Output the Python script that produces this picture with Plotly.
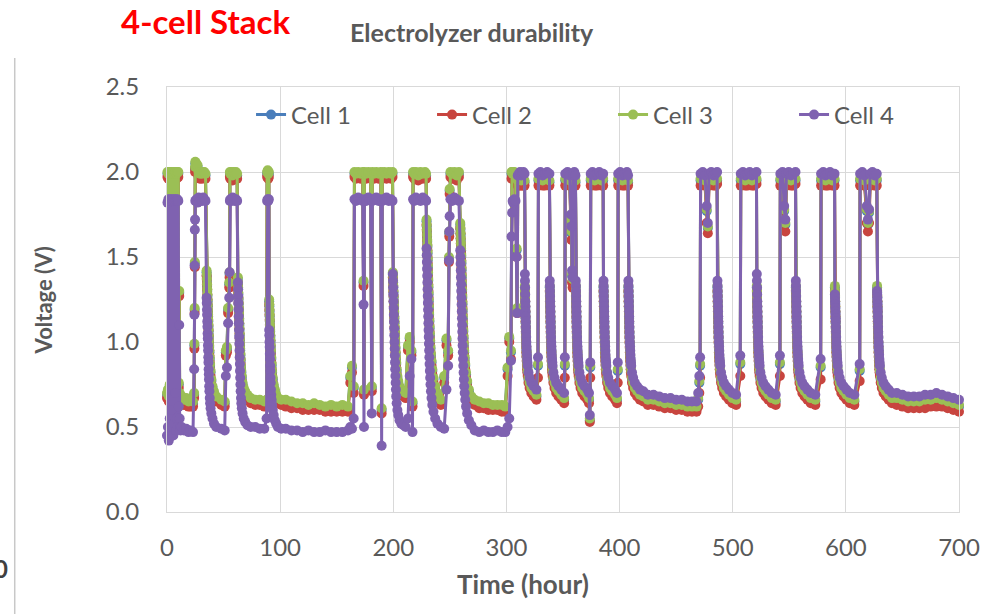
import plotly.graph_objects as go

# Elapsed test time (hours), shared by all four cells
hours = [
    0, 0.4, 0.8, 1.2, 1.6, 2, 2.4, 2.8, 3.2, 3.6, 4, 4.4, 4.8, 5.2, 5.6, 6, 6.4, 6.8, 7.2, 7.6, 8, 8.4, 8.8, 9.2, 9.6, 10, 10.4, 10.8, 11.2, 11.6, 12,
    13, 15, 17, 19, 21, 23,
    24, 24.2, 24.4, 24.6, 24.8, 25, 26, 27, 28, 29, 30, 31, 32, 33, 34,
    35, 35.15, 35.3, 35.45, 35.6, 35.75, 35.9, 36.05, 36.2, 36.35, 36.5, 36.65, 36.8, 36.95, 37.1, 37.3, 37.5, 37.8, 38.1, 38.5, 39.2, 40.2, 41.5, 43.5, 48, 51,
    52, 53, 54, 55, 55.3, 55.6, 56, 57, 58, 59, 60, 61, 62,
    62.6, 62.75, 62.9, 63.05, 63.2, 63.35, 63.5, 63.65, 63.8, 63.95, 64.1, 64.25, 64.4, 64.55, 64.7, 64.9, 65.1, 65.4, 65.7, 66.1, 66.8, 67.8, 69.1, 71.1, 74, 78, 82, 86,
    88, 88.5, 89, 89.5, 90, 90.3, 90.45, 90.6, 90.75, 90.9, 91.05, 91.2, 91.35, 91.5, 91.7, 91.9, 92.2, 92.5, 92.9, 93.5, 94.3, 95.3, 96.5, 98, 101,
    105, 110, 115, 120, 125, 130, 135, 140, 145, 150, 155, 160,
    162, 163.5, 165,
    165.7, 167, 169, 171, 173, 173.7, 174.1, 174.5, 176, 178, 180, 181, 181.5, 183, 185, 187, 189, 189.7, 190.3, 192, 194, 196, 198, 199.3,
    199.6, 199.75, 199.9, 200.05, 200.2, 200.35, 200.5, 200.65, 200.8, 200.95, 201.1, 201.25, 201.4, 201.55, 201.7, 201.9, 202.1, 202.35, 202.6, 203, 203.6, 204.4, 205.5, 207, 209, 211,
    213, 214.5, 216, 217, 217.5, 218.5, 220, 222, 224, 226, 228, 229,
    229.4, 229.55, 229.7, 229.85, 230, 230.15, 230.3, 230.45, 230.6, 230.75, 230.9, 231.05, 231.2, 231.35, 231.5, 231.7, 231.9, 232.1, 232.35, 232.6, 232.9, 233.3, 233.8, 234.5, 235.5, 237, 239, 242,
    245, 247, 248.5, 249.2, 249.5, 249.8, 250.5, 252, 254, 256, 258,
    259.2, 259.35, 259.5, 259.65, 259.8, 259.95, 260.1, 260.25, 260.4, 260.55, 260.7, 260.85, 261, 261.15, 261.3, 261.5, 261.7, 261.9, 262.15, 262.4, 262.7, 263.1, 263.6, 264.3, 265.3, 266.8, 269, 272,
    276, 280, 284, 288, 292, 296, 299,
    301, 302.5, 304, 304.5, 305, 305.5, 306, 307, 308, 309, 309.5, 310, 311, 312, 313, 314, 315, 316,
    316.3, 316.4, 316.5, 316.6, 316.7, 316.8, 316.9, 317, 317.1, 317.2, 317.3, 317.45, 317.6, 317.75, 317.9, 318.1, 318.3, 318.55, 318.8, 319.5, 320.5, 322, 324, 326.5,
    327.9, 328.3, 330, 332, 334, 336, 338,
    338.3, 338.4, 338.5, 338.6, 338.7, 338.8, 338.9, 339, 339.1, 339.2, 339.3, 339.45, 339.6, 339.75, 339.9, 340.1, 340.3, 340.55, 340.8, 341.5, 342.5, 344, 346, 348.5, 351,
    351.6, 352, 354, 356, 357, 357.5, 358, 358.5, 359, 360, 361,
    361.3, 361.4, 361.5, 361.6, 361.7, 361.8, 361.9, 362, 362.1, 362.2, 362.3, 362.45, 362.6, 362.75, 362.9, 363.1, 363.3, 363.55, 363.8, 364.5, 365.5, 367, 369, 371.5, 373,
    373.7, 374.1, 374.5, 376, 378, 380, 382, 384, 385.5,
    385.8, 385.9, 386, 386.1, 386.2, 386.3, 386.4, 386.5, 386.6, 386.7, 386.8, 386.95, 387.1, 387.25, 387.4, 387.6, 387.8, 388.05, 388.3, 389, 390, 391.5, 393.5, 396, 397.7,
    398.4, 398.8, 400.5, 402.5, 404.5, 406.5, 407.5,
    407.8, 407.9, 408, 408.1, 408.2, 408.3, 408.4, 408.5, 408.6, 408.7, 408.8, 408.95, 409.1, 409.25, 409.4, 409.6, 409.8, 410.05, 410.3, 411, 412, 413.5, 415.5, 418,
    421, 425, 430, 435, 440, 445, 450, 455, 460, 464, 468,
    469.5, 470.5, 471.2, 471.6, 473.5, 475.5, 477, 478, 479, 481, 483, 485, 486.2,
    486.5, 486.6, 486.7, 486.8, 486.9, 487, 487.1, 487.2, 487.3, 487.4, 487.5, 487.65, 487.8, 487.95, 488.1, 488.3, 488.5, 488.75, 489, 489.7, 490.7, 492.2, 494.2, 496.7, 499.7, 503,
    506.7, 507.1, 509, 511, 513, 515, 517, 519, 521,
    521.3, 521.4, 521.5, 521.6, 521.7, 521.8, 521.9, 522, 522.1, 522.2, 522.3, 522.45, 522.6, 522.75, 522.9, 523.1, 523.3, 523.55, 523.8, 524.5, 525.5, 527, 529, 531.5, 534.5, 538,
    541.7, 542.1, 544, 545.5, 546.5, 547.5, 549.5, 551.5, 553.5, 555.5,
    555.8, 555.9, 556, 556.1, 556.2, 556.3, 556.4, 556.5, 556.6, 556.7, 556.8, 556.95, 557.1, 557.25, 557.4, 557.6, 557.8, 558.05, 558.3, 559, 560, 561.5, 563.5, 566, 569, 573,
    577.7, 578.1, 580, 582, 584, 586, 588, 590,
    590.3, 590.4, 590.5, 590.6, 590.7, 590.8, 590.9, 591, 591.1, 591.2, 591.3, 591.45, 591.6, 591.75, 591.9, 592.1, 592.3, 592.55, 592.8, 593.5, 594.5, 596, 598, 600.5, 603.5, 607.5,
    612.2, 612.6, 614.5, 616.5, 618.5, 619.5, 620.5, 621.5, 623.5, 625.5, 627.3,
    627.6, 627.7, 627.8, 627.9, 628, 628.1, 628.2, 628.3, 628.4, 628.5, 628.6, 628.75, 628.9, 629.05, 629.2, 629.4, 629.6, 629.85, 630.1, 630.8, 631.8, 633.3, 635.3, 637.8, 640.8,
    645, 650, 655, 660, 665, 670, 675, 680, 685, 690, 695, 700,
]

# Cell voltages (V)
cell1 = [
    0.69, 1.99, 0.71, 1.98, 0.67, 1.99, 0.74, 1.99, 0.69, 1.98, 0.77, 1.99, 0.71, 1.99, 0.67, 1.98, 0.71, 1.99, 0.84, 1.99, 0.69, 1.98, 0.73, 1.99, 0.69, 1.99, 0.75, 1.29, 0.69, 0.66, 0.65,
    0.67, 0.65, 0.66, 0.64, 0.65, 0.64,
    0.69, 0.98, 1.19, 1.46, 2.02, 2.05, 2.04, 2.03, 1.99, 1.98, 1.99, 1.98, 1.99, 1.99, 1.98,
    1.41, 1.39, 1.36, 1.33, 1.30, 1.27, 1.24, 1.21, 1.18, 1.15, 1.12, 1.09, 1.06, 1.03, 1.00, 0.97, 0.94, 0.90, 0.86, 0.82, 0.77, 0.73, 0.70, 0.67, 0.65, 0.64,
    0.94, 0.96, 1.19, 1.34, 1.40, 1.99, 1.98, 1.99, 1.97, 1.99, 1.98, 1.99, 1.98,
    1.37, 1.34, 1.31, 1.28, 1.25, 1.22, 1.19, 1.16, 1.13, 1.10, 1.07, 1.04, 1.01, 0.98, 0.95, 0.92, 0.89, 0.85, 0.82, 0.79, 0.75, 0.72, 0.70, 0.68, 0.66, 0.65, 0.65, 0.64,
    0.65, 1.99, 2.00, 1.98, 1.99, 1.24, 1.21, 1.18, 1.15, 1.12, 1.09, 1.06, 1.03, 1.00, 0.97, 0.94, 0.90, 0.86, 0.82, 0.78, 0.74, 0.71, 0.68, 0.66, 0.65,
    0.65, 0.64, 0.63, 0.63, 0.62, 0.63, 0.62, 0.61, 0.62, 0.61, 0.62, 0.61,
    0.79, 0.85, 0.73,
    1.99, 1.98, 1.99, 1.98, 1.99, 1.35, 0.71, 1.99, 1.98, 1.99, 1.98, 0.73, 1.99, 1.98, 1.99, 1.98, 1.99, 0.60, 1.98, 1.99, 1.98, 1.99, 1.98, 1.99,
    1.40, 1.38, 1.35, 1.32, 1.29, 1.26, 1.23, 1.20, 1.17, 1.14, 1.11, 1.08, 1.05, 1.02, 0.99, 0.96, 0.93, 0.90, 0.87, 0.83, 0.79, 0.76, 0.73, 0.71, 0.70, 0.69,
    0.97, 1.02, 0.94, 0.64, 1.99, 1.98, 1.99, 1.97, 1.99, 1.98, 1.99, 1.98,
    1.71, 1.68, 1.65, 1.62, 1.59, 1.56, 1.52, 1.48, 1.44, 1.40, 1.36, 1.32, 1.28, 1.24, 1.20, 1.16, 1.12, 1.08, 1.04, 1.00, 0.96, 0.92, 0.88, 0.83, 0.78, 0.73, 0.69, 0.65,
    0.79, 1.01, 0.94, 1.49, 1.64, 1.89, 1.99, 1.98, 1.99, 1.97, 1.99,
    1.69, 1.66, 1.63, 1.60, 1.57, 1.54, 1.50, 1.46, 1.42, 1.38, 1.34, 1.30, 1.26, 1.22, 1.18, 1.14, 1.10, 1.06, 1.02, 0.98, 0.94, 0.90, 0.86, 0.81, 0.76, 0.71, 0.67, 0.65,
    0.64, 0.63, 0.63, 0.62, 0.62, 0.62, 0.61,
    0.84, 1.02, 0.94, 1.99, 1.99, 1.98, 1.99, 1.99, 1.98, 1.54, 1.19, 1.94, 1.95, 1.95, 1.94, 1.95, 1.95, 1.94,
    1.32, 1.29, 1.26, 1.23, 1.20, 1.17, 1.14, 1.11, 1.08, 1.05, 1.02, 0.99, 0.96, 0.935, 0.91, 0.885, 0.86, 0.84, 0.82, 0.78, 0.75, 0.72, 0.70, 0.68,
    0.86, 1.95, 1.95, 1.94, 1.95, 1.95, 1.94,
    1.32, 1.29, 1.26, 1.23, 1.20, 1.17, 1.14, 1.11, 1.08, 1.05, 1.02, 0.99, 0.96, 0.935, 0.91, 0.885, 0.86, 0.84, 0.82, 0.78, 0.75, 0.72, 0.70, 0.68, 0.66,
    0.86, 1.95, 1.95, 1.94, 1.71, 1.64, 1.39, 1.36, 1.95, 1.95, 1.94,
    1.32, 1.29, 1.26, 1.23, 1.20, 1.17, 1.14, 1.11, 1.08, 1.05, 1.02, 0.99, 0.96, 0.935, 0.91, 0.885, 0.86, 0.84, 0.82, 0.78, 0.75, 0.72, 0.70, 0.68, 0.66,
    0.54, 0.85, 1.95, 1.95, 1.94, 1.95, 1.95, 1.94, 1.95,
    1.32, 1.29, 1.26, 1.23, 1.20, 1.17, 1.14, 1.11, 1.08, 1.05, 1.02, 0.99, 0.96, 0.935, 0.91, 0.885, 0.86, 0.84, 0.82, 0.78, 0.75, 0.72, 0.70, 0.68, 0.66,
    0.83, 1.95, 1.95, 1.94, 1.95, 1.95, 1.94,
    1.32, 1.29, 1.26, 1.23, 1.20, 1.17, 1.14, 1.11, 1.08, 1.05, 1.02, 0.99, 0.96, 0.935, 0.91, 0.885, 0.86, 0.84, 0.82, 0.78, 0.75, 0.72, 0.70, 0.68,
    0.67, 0.65, 0.65, 0.64, 0.63, 0.63, 0.62, 0.62, 0.61, 0.61, 0.61,
    0.66, 0.76, 0.86, 1.95, 1.95, 1.94, 1.77, 1.67, 1.95, 1.95, 1.94, 1.95, 1.95,
    1.32, 1.29, 1.26, 1.23, 1.20, 1.17, 1.14, 1.11, 1.08, 1.05, 1.02, 0.99, 0.96, 0.935, 0.91, 0.885, 0.86, 0.84, 0.82, 0.78, 0.75, 0.72, 0.70, 0.68, 0.66, 0.65,
    0.87, 1.95, 1.95, 1.94, 1.95, 1.95, 1.94, 1.95, 1.95,
    1.32, 1.29, 1.26, 1.23, 1.20, 1.17, 1.14, 1.11, 1.08, 1.05, 1.02, 0.99, 0.96, 0.935, 0.91, 0.885, 0.86, 0.84, 0.82, 0.78, 0.75, 0.72, 0.70, 0.68, 0.66, 0.65,
    0.87, 1.95, 1.95, 1.77, 1.69, 1.95, 1.95, 1.94, 1.95, 1.95,
    1.32, 1.29, 1.26, 1.23, 1.20, 1.17, 1.14, 1.11, 1.08, 1.05, 1.02, 0.99, 0.96, 0.935, 0.91, 0.885, 0.86, 0.84, 0.82, 0.78, 0.75, 0.72, 0.70, 0.68, 0.66, 0.65,
    0.85, 1.95, 1.95, 1.94, 1.95, 1.95, 1.94, 1.95,
    1.32, 1.29, 1.26, 1.23, 1.20, 1.17, 1.14, 1.11, 1.08, 1.05, 1.02, 0.99, 0.96, 0.935, 0.91, 0.885, 0.86, 0.84, 0.82, 0.78, 0.75, 0.72, 0.70, 0.68, 0.66, 0.65,
    0.83, 1.95, 1.95, 1.94, 1.77, 1.69, 1.76, 1.95, 1.95, 1.94, 1.95,
    1.32, 1.29, 1.26, 1.23, 1.20, 1.17, 1.14, 1.11, 1.08, 1.05, 1.02, 0.99, 0.96, 0.935, 0.91, 0.885, 0.86, 0.84, 0.82, 0.78, 0.75, 0.72, 0.70, 0.68, 0.66,
    0.66, 0.65, 0.64, 0.64, 0.64, 0.65, 0.65, 0.66, 0.65, 0.64, 0.63, 0.62,
]

cell2 = [
    0.67, 1.97, 0.69, 1.96, 0.65, 1.97, 0.72, 1.97, 0.67, 1.96, 0.75, 1.97, 0.69, 1.97, 0.65, 1.96, 0.69, 1.97, 0.82, 1.97, 0.67, 1.96, 0.71, 1.97, 0.67, 1.97, 0.73, 1.27, 0.67, 0.64, 0.63,
    0.64, 0.63, 0.63, 0.62, 0.62, 0.62,
    0.67, 0.96, 1.17, 1.44, 2.00, 2.02, 2.01, 2.00, 1.97, 1.96, 1.97, 1.96, 1.97, 1.97, 1.96,
    1.39, 1.37, 1.34, 1.31, 1.28, 1.25, 1.22, 1.19, 1.16, 1.13, 1.10, 1.07, 1.04, 1.01, 0.98, 0.95, 0.92, 0.88, 0.84, 0.80, 0.75, 0.71, 0.68, 0.65, 0.63, 0.62,
    0.92, 0.94, 1.17, 1.32, 1.38, 1.97, 1.96, 1.97, 1.95, 1.97, 1.96, 1.97, 1.96,
    1.35, 1.32, 1.29, 1.26, 1.23, 1.20, 1.17, 1.14, 1.11, 1.08, 1.05, 1.02, 0.99, 0.96, 0.93, 0.90, 0.87, 0.83, 0.80, 0.77, 0.73, 0.70, 0.68, 0.66, 0.64, 0.63, 0.63, 0.62,
    0.63, 1.97, 1.98, 1.96, 1.97, 1.22, 1.19, 1.16, 1.13, 1.10, 1.07, 1.04, 1.01, 0.98, 0.95, 0.92, 0.88, 0.84, 0.80, 0.76, 0.72, 0.69, 0.66, 0.64, 0.63,
    0.62, 0.61, 0.61, 0.60, 0.60, 0.60, 0.60, 0.59, 0.59, 0.59, 0.59, 0.59,
    0.76, 0.82, 0.70,
    1.97, 1.96, 1.97, 1.96, 1.97, 1.33, 0.69, 1.97, 1.96, 1.97, 1.96, 0.71, 1.97, 1.96, 1.97, 1.96, 1.97, 0.58, 1.96, 1.97, 1.96, 1.97, 1.96, 1.97,
    1.38, 1.36, 1.33, 1.30, 1.27, 1.24, 1.21, 1.18, 1.15, 1.12, 1.09, 1.06, 1.03, 1.00, 0.97, 0.94, 0.91, 0.88, 0.85, 0.81, 0.77, 0.74, 0.71, 0.69, 0.68, 0.67,
    0.95, 1.00, 0.92, 0.62, 1.97, 1.96, 1.97, 1.95, 1.97, 1.96, 1.97, 1.96,
    1.69, 1.66, 1.63, 1.60, 1.57, 1.54, 1.50, 1.46, 1.42, 1.38, 1.34, 1.30, 1.26, 1.22, 1.18, 1.14, 1.10, 1.06, 1.02, 0.98, 0.94, 0.90, 0.86, 0.81, 0.76, 0.71, 0.67, 0.63,
    0.76, 0.98, 0.92, 1.47, 1.62, 1.87, 1.97, 1.96, 1.97, 1.95, 1.97,
    1.67, 1.64, 1.61, 1.58, 1.55, 1.52, 1.48, 1.44, 1.40, 1.36, 1.32, 1.28, 1.24, 1.20, 1.16, 1.12, 1.08, 1.04, 1.00, 0.96, 0.92, 0.88, 0.84, 0.79, 0.74, 0.69, 0.65, 0.63,
    0.61, 0.61, 0.60, 0.60, 0.60, 0.59, 0.59,
    0.80, 1.00, 0.90, 1.96, 1.97, 1.96, 1.97, 1.97, 1.96, 1.50, 1.17, 1.92, 1.92, 1.93, 1.92, 1.92, 1.93, 1.92,
    1.30, 1.27, 1.24, 1.21, 1.18, 1.15, 1.12, 1.09, 1.06, 1.03, 1.00, 0.97, 0.94, 0.915, 0.89, 0.865, 0.84, 0.82, 0.80, 0.76, 0.73, 0.70, 0.68, 0.66,
    0.79, 1.92, 1.93, 1.92, 1.92, 1.93, 1.92,
    1.30, 1.27, 1.24, 1.21, 1.18, 1.15, 1.12, 1.09, 1.06, 1.03, 1.00, 0.97, 0.94, 0.915, 0.89, 0.865, 0.84, 0.82, 0.80, 0.76, 0.73, 0.70, 0.68, 0.66, 0.64,
    0.79, 1.92, 1.93, 1.92, 1.66, 1.60, 1.35, 1.32, 1.92, 1.93, 1.92,
    1.30, 1.27, 1.24, 1.21, 1.18, 1.15, 1.12, 1.09, 1.06, 1.03, 1.00, 0.97, 0.94, 0.915, 0.89, 0.865, 0.84, 0.82, 0.80, 0.76, 0.73, 0.70, 0.68, 0.66, 0.64,
    0.53, 0.79, 1.92, 1.93, 1.92, 1.92, 1.93, 1.92, 1.92,
    1.30, 1.27, 1.24, 1.21, 1.18, 1.15, 1.12, 1.09, 1.06, 1.03, 1.00, 0.97, 0.94, 0.915, 0.89, 0.865, 0.84, 0.82, 0.80, 0.76, 0.73, 0.70, 0.68, 0.66, 0.64,
    0.76, 1.92, 1.93, 1.92, 1.92, 1.93, 1.92,
    1.30, 1.27, 1.24, 1.21, 1.18, 1.15, 1.12, 1.09, 1.06, 1.03, 1.00, 0.97, 0.94, 0.915, 0.89, 0.865, 0.84, 0.82, 0.80, 0.76, 0.73, 0.70, 0.68, 0.66,
    0.65, 0.63, 0.63, 0.62, 0.61, 0.61, 0.60, 0.60, 0.59, 0.59, 0.59,
    0.62, 0.70, 0.79, 1.92, 1.93, 1.92, 1.70, 1.64, 1.92, 1.93, 1.92, 1.92, 1.93,
    1.30, 1.27, 1.24, 1.21, 1.18, 1.15, 1.12, 1.09, 1.06, 1.03, 1.00, 0.97, 0.94, 0.915, 0.89, 0.865, 0.84, 0.82, 0.80, 0.76, 0.73, 0.70, 0.68, 0.66, 0.64, 0.63,
    0.80, 1.92, 1.93, 1.92, 1.92, 1.93, 1.92, 1.92, 1.93,
    1.30, 1.27, 1.24, 1.21, 1.18, 1.15, 1.12, 1.09, 1.06, 1.03, 1.00, 0.97, 0.94, 0.915, 0.89, 0.865, 0.84, 0.82, 0.80, 0.76, 0.73, 0.70, 0.68, 0.66, 0.64, 0.63,
    0.80, 1.92, 1.93, 1.70, 1.65, 1.92, 1.93, 1.92, 1.92, 1.93,
    1.30, 1.27, 1.24, 1.21, 1.18, 1.15, 1.12, 1.09, 1.06, 1.03, 1.00, 0.97, 0.94, 0.915, 0.89, 0.865, 0.84, 0.82, 0.80, 0.76, 0.73, 0.70, 0.68, 0.66, 0.64, 0.63,
    0.78, 1.92, 1.93, 1.92, 1.92, 1.93, 1.92, 1.92,
    1.30, 1.27, 1.24, 1.21, 1.18, 1.15, 1.12, 1.09, 1.06, 1.03, 1.00, 0.97, 0.94, 0.915, 0.89, 0.865, 0.84, 0.82, 0.80, 0.76, 0.73, 0.70, 0.68, 0.66, 0.64, 0.63,
    0.77, 1.92, 1.93, 1.92, 1.70, 1.65, 1.70, 1.92, 1.93, 1.92, 1.92,
    1.30, 1.27, 1.24, 1.21, 1.18, 1.15, 1.12, 1.09, 1.06, 1.03, 1.00, 0.97, 0.94, 0.915, 0.89, 0.865, 0.84, 0.82, 0.80, 0.76, 0.73, 0.70, 0.68, 0.66, 0.64,
    0.63, 0.62, 0.61, 0.61, 0.61, 0.61, 0.62, 0.62, 0.62, 0.61, 0.60, 0.59,
]

cell3 = [
    0.70, 2.00, 0.72, 1.99, 0.68, 2.00, 0.75, 2.00, 0.70, 1.99, 0.78, 2.00, 0.72, 2.00, 0.68, 1.99, 0.72, 2.00, 0.85, 2.00, 0.70, 1.99, 0.74, 2.00, 0.70, 2.00, 0.76, 1.30, 0.70, 0.67, 0.66,
    0.68, 0.66, 0.67, 0.65, 0.66, 0.65,
    0.70, 0.99, 1.20, 1.47, 2.03, 2.06, 2.05, 2.04, 2.00, 1.99, 2.00, 1.99, 2.00, 2.00, 1.99,
    1.42, 1.40, 1.37, 1.34, 1.31, 1.28, 1.25, 1.22, 1.19, 1.16, 1.13, 1.10, 1.07, 1.04, 1.01, 0.98, 0.95, 0.91, 0.87, 0.83, 0.78, 0.74, 0.71, 0.68, 0.66, 0.65,
    0.95, 0.97, 1.20, 1.35, 1.41, 2.00, 1.99, 2.00, 1.98, 2.00, 1.99, 2.00, 1.99,
    1.38, 1.35, 1.32, 1.29, 1.26, 1.23, 1.20, 1.17, 1.14, 1.11, 1.08, 1.05, 1.02, 0.99, 0.96, 0.93, 0.90, 0.86, 0.83, 0.80, 0.76, 0.73, 0.71, 0.69, 0.67, 0.66, 0.66, 0.65,
    0.66, 2.00, 2.01, 1.99, 2.00, 1.25, 1.22, 1.19, 1.16, 1.13, 1.10, 1.07, 1.04, 1.01, 0.98, 0.95, 0.91, 0.87, 0.83, 0.79, 0.75, 0.72, 0.69, 0.67, 0.66,
    0.66, 0.65, 0.64, 0.64, 0.63, 0.64, 0.63, 0.62, 0.63, 0.62, 0.63, 0.62,
    0.80, 0.86, 0.74,
    2.00, 1.99, 2.00, 1.99, 2.00, 1.36, 0.72, 2.00, 1.99, 2.00, 1.99, 0.74, 2.00, 1.99, 2.00, 1.99, 2.00, 0.61, 1.99, 2.00, 1.99, 2.00, 1.99, 2.00,
    1.41, 1.39, 1.36, 1.33, 1.30, 1.27, 1.24, 1.21, 1.18, 1.15, 1.12, 1.09, 1.06, 1.03, 1.00, 0.97, 0.94, 0.91, 0.88, 0.84, 0.80, 0.77, 0.74, 0.72, 0.71, 0.70,
    0.98, 1.03, 0.95, 0.65, 2.00, 1.99, 2.00, 1.98, 2.00, 1.99, 2.00, 1.99,
    1.72, 1.69, 1.66, 1.63, 1.60, 1.57, 1.53, 1.49, 1.45, 1.41, 1.37, 1.33, 1.29, 1.25, 1.21, 1.17, 1.13, 1.09, 1.05, 1.01, 0.97, 0.93, 0.89, 0.84, 0.79, 0.74, 0.70, 0.66,
    0.80, 1.02, 0.95, 1.50, 1.65, 1.90, 2.00, 1.99, 2.00, 1.98, 2.00,
    1.70, 1.67, 1.64, 1.61, 1.58, 1.55, 1.51, 1.47, 1.43, 1.39, 1.35, 1.31, 1.27, 1.23, 1.19, 1.15, 1.11, 1.07, 1.03, 0.99, 0.95, 0.91, 0.87, 0.82, 0.77, 0.72, 0.68, 0.66,
    0.65, 0.64, 0.64, 0.63, 0.63, 0.63, 0.62,
    0.85, 1.03, 0.95, 2.00, 2.00, 1.99, 2.00, 2.00, 1.99, 1.55, 1.20, 1.95, 1.96, 1.96, 1.95, 1.96, 1.96, 1.95,
    1.33, 1.30, 1.27, 1.24, 1.21, 1.18, 1.15, 1.12, 1.09, 1.06, 1.03, 1.00, 0.97, 0.945, 0.92, 0.895, 0.87, 0.85, 0.83, 0.79, 0.76, 0.73, 0.71, 0.69,
    0.87, 1.96, 1.96, 1.95, 1.96, 1.96, 1.95,
    1.33, 1.30, 1.27, 1.24, 1.21, 1.18, 1.15, 1.12, 1.09, 1.06, 1.03, 1.00, 0.97, 0.945, 0.92, 0.895, 0.87, 0.85, 0.83, 0.79, 0.76, 0.73, 0.71, 0.69, 0.67,
    0.87, 1.96, 1.96, 1.95, 1.72, 1.65, 1.40, 1.37, 1.96, 1.96, 1.95,
    1.33, 1.30, 1.27, 1.24, 1.21, 1.18, 1.15, 1.12, 1.09, 1.06, 1.03, 1.00, 0.97, 0.945, 0.92, 0.895, 0.87, 0.85, 0.83, 0.79, 0.76, 0.73, 0.71, 0.69, 0.67,
    0.55, 0.86, 1.96, 1.96, 1.95, 1.96, 1.96, 1.95, 1.96,
    1.33, 1.30, 1.27, 1.24, 1.21, 1.18, 1.15, 1.12, 1.09, 1.06, 1.03, 1.00, 0.97, 0.945, 0.92, 0.895, 0.87, 0.85, 0.83, 0.79, 0.76, 0.73, 0.71, 0.69, 0.67,
    0.84, 1.96, 1.96, 1.95, 1.96, 1.96, 1.95,
    1.33, 1.30, 1.27, 1.24, 1.21, 1.18, 1.15, 1.12, 1.09, 1.06, 1.03, 1.00, 0.97, 0.945, 0.92, 0.895, 0.87, 0.85, 0.83, 0.79, 0.76, 0.73, 0.71, 0.69,
    0.68, 0.66, 0.66, 0.65, 0.64, 0.64, 0.63, 0.63, 0.62, 0.62, 0.62,
    0.67, 0.77, 0.87, 1.96, 1.96, 1.95, 1.78, 1.68, 1.96, 1.96, 1.95, 1.96, 1.96,
    1.33, 1.30, 1.27, 1.24, 1.21, 1.18, 1.15, 1.12, 1.09, 1.06, 1.03, 1.00, 0.97, 0.945, 0.92, 0.895, 0.87, 0.85, 0.83, 0.79, 0.76, 0.73, 0.71, 0.69, 0.67, 0.66,
    0.88, 1.96, 1.96, 1.95, 1.96, 1.96, 1.95, 1.96, 1.96,
    1.33, 1.30, 1.27, 1.24, 1.21, 1.18, 1.15, 1.12, 1.09, 1.06, 1.03, 1.00, 0.97, 0.945, 0.92, 0.895, 0.87, 0.85, 0.83, 0.79, 0.76, 0.73, 0.71, 0.69, 0.67, 0.66,
    0.88, 1.96, 1.96, 1.78, 1.70, 1.96, 1.96, 1.95, 1.96, 1.96,
    1.33, 1.30, 1.27, 1.24, 1.21, 1.18, 1.15, 1.12, 1.09, 1.06, 1.03, 1.00, 0.97, 0.945, 0.92, 0.895, 0.87, 0.85, 0.83, 0.79, 0.76, 0.73, 0.71, 0.69, 0.67, 0.66,
    0.86, 1.96, 1.96, 1.95, 1.96, 1.96, 1.95, 1.96,
    1.33, 1.30, 1.27, 1.24, 1.21, 1.18, 1.15, 1.12, 1.09, 1.06, 1.03, 1.00, 0.97, 0.945, 0.92, 0.895, 0.87, 0.85, 0.83, 0.79, 0.76, 0.73, 0.71, 0.69, 0.67, 0.66,
    0.84, 1.96, 1.96, 1.95, 1.78, 1.70, 1.77, 1.96, 1.96, 1.95, 1.96,
    1.33, 1.30, 1.27, 1.24, 1.21, 1.18, 1.15, 1.12, 1.09, 1.06, 1.03, 1.00, 0.97, 0.945, 0.92, 0.895, 0.87, 0.85, 0.83, 0.79, 0.76, 0.73, 0.71, 0.69, 0.67,
    0.67, 0.66, 0.65, 0.65, 0.65, 0.66, 0.66, 0.67, 0.66, 0.65, 0.64, 0.63,
]

cell4 = [
    0.45, 1.82, 0.50, 1.84, 0.42, 1.83, 0.55, 1.84, 0.48, 1.83, 0.60, 1.84, 0.50, 1.83, 0.45, 1.84, 0.52, 1.83, 0.70, 1.84, 0.48, 1.83, 0.55, 1.84, 0.50, 1.83, 0.62, 1.10, 0.55, 0.50, 0.48,
    0.50, 0.48, 0.49, 0.47, 0.48, 0.47,
    0.84, 1.16, 1.45, 1.66, 1.72, 1.83, 1.84, 1.82, 1.85, 1.83, 1.84, 1.83, 1.85, 1.84, 1.83,
    1.26, 1.23, 1.19, 1.16, 1.12, 1.09, 1.05, 1.02, 0.98, 0.95, 0.91, 0.88, 0.84, 0.81, 0.78, 0.74, 0.71, 0.67, 0.64, 0.61, 0.58, 0.55, 0.52, 0.50, 0.49, 0.48,
    0.80, 0.85, 1.11, 1.26, 1.41, 1.83, 1.84, 1.83, 1.85, 1.84, 1.83, 1.84, 1.83,
    1.35, 1.31, 1.27, 1.23, 1.19, 1.15, 1.11, 1.07, 1.03, 0.99, 0.95, 0.91, 0.87, 0.83, 0.79, 0.75, 0.71, 0.67, 0.64, 0.61, 0.58, 0.55, 0.53, 0.51, 0.50, 0.50, 0.49, 0.49,
    0.55, 1.83, 1.84, 1.83, 1.84, 1.07, 1.04, 1.00, 0.97, 0.93, 0.90, 0.86, 0.83, 0.79, 0.76, 0.72, 0.69, 0.66, 0.63, 0.60, 0.57, 0.54, 0.52, 0.50, 0.49,
    0.49, 0.48, 0.48, 0.47, 0.48, 0.47, 0.47, 0.48, 0.47, 0.47, 0.47, 0.48,
    0.50, 0.49, 0.55,
    1.84, 1.83, 1.85, 1.84, 1.83, 1.22, 0.50, 1.84, 1.83, 1.85, 1.84, 0.58, 1.83, 1.84, 1.85, 1.83, 1.84, 0.39, 1.83, 1.84, 1.85, 1.83, 1.84, 1.83,
    1.40, 1.36, 1.32, 1.28, 1.24, 1.20, 1.16, 1.12, 1.08, 1.04, 1.00, 0.96, 0.92, 0.88, 0.84, 0.80, 0.76, 0.72, 0.68, 0.64, 0.60, 0.57, 0.54, 0.52, 0.51, 0.50,
    0.55, 0.80, 0.90, 0.47, 1.84, 1.83, 1.85, 1.84, 1.83, 1.85, 1.84, 1.83,
    1.55, 1.51, 1.47, 1.43, 1.39, 1.35, 1.31, 1.27, 1.23, 1.19, 1.15, 1.11, 1.07, 1.03, 0.99, 0.95, 0.91, 0.87, 0.83, 0.79, 0.75, 0.71, 0.67, 0.63, 0.59, 0.55, 0.52, 0.50,
    0.49, 0.72, 0.86, 1.48, 1.65, 1.74, 1.84, 1.83, 1.85, 1.84, 1.83,
    1.54, 1.50, 1.46, 1.42, 1.38, 1.34, 1.30, 1.26, 1.22, 1.18, 1.14, 1.10, 1.06, 1.02, 0.98, 0.94, 0.90, 0.86, 0.82, 0.78, 0.74, 0.70, 0.66, 0.62, 0.58, 0.54, 0.51, 0.48,
    0.47, 0.48, 0.47, 0.47, 0.48, 0.47, 0.47,
    0.50, 0.55, 0.89, 1.62, 1.76, 1.83, 1.82, 1.84, 1.83, 1.50, 1.17, 1.98, 1.99, 2.00, 1.98, 1.99, 2.00, 1.99,
    1.40, 1.36, 1.32, 1.28, 1.24, 1.21, 1.18, 1.15, 1.12, 1.09, 1.06, 1.03, 1.00, 0.975, 0.95, 0.925, 0.90, 0.88, 0.86, 0.82, 0.79, 0.76, 0.74, 0.72,
    0.91, 1.99, 2.00, 1.98, 1.99, 2.00, 1.99,
    1.36, 1.33, 1.30, 1.27, 1.24, 1.21, 1.18, 1.15, 1.12, 1.09, 1.06, 1.03, 1.00, 0.975, 0.95, 0.925, 0.90, 0.88, 0.86, 0.82, 0.79, 0.76, 0.74, 0.72, 0.70,
    0.91, 1.99, 2.00, 1.98, 1.75, 1.68, 1.42, 1.38, 1.99, 2.00, 1.98,
    1.36, 1.33, 1.30, 1.27, 1.24, 1.21, 1.18, 1.15, 1.12, 1.09, 1.06, 1.03, 1.00, 0.975, 0.95, 0.925, 0.90, 0.88, 0.86, 0.82, 0.79, 0.76, 0.74, 0.72, 0.70,
    0.57, 0.88, 1.99, 2.00, 1.98, 1.99, 2.00, 1.98, 1.99,
    1.36, 1.33, 1.30, 1.27, 1.24, 1.21, 1.18, 1.15, 1.12, 1.09, 1.06, 1.03, 1.00, 0.975, 0.95, 0.925, 0.90, 0.88, 0.86, 0.82, 0.79, 0.76, 0.74, 0.72, 0.70,
    0.88, 1.99, 2.00, 1.98, 1.99, 2.00, 1.98,
    1.36, 1.33, 1.30, 1.27, 1.24, 1.21, 1.18, 1.15, 1.12, 1.09, 1.06, 1.03, 1.00, 0.975, 0.95, 0.925, 0.90, 0.88, 0.86, 0.82, 0.79, 0.76, 0.74, 0.72,
    0.71, 0.69, 0.69, 0.68, 0.67, 0.67, 0.66, 0.66, 0.65, 0.65, 0.65,
    0.70, 0.80, 0.91, 1.99, 2.00, 1.98, 1.80, 1.70, 1.99, 2.00, 1.98, 1.99, 2.00,
    1.36, 1.33, 1.30, 1.27, 1.24, 1.21, 1.18, 1.15, 1.12, 1.09, 1.06, 1.03, 1.00, 0.975, 0.95, 0.925, 0.90, 0.88, 0.86, 0.82, 0.79, 0.76, 0.74, 0.72, 0.70, 0.69,
    0.92, 1.99, 2.00, 1.98, 1.99, 2.00, 1.98, 1.99, 2.00,
    1.40, 1.36, 1.32, 1.28, 1.24, 1.21, 1.18, 1.15, 1.12, 1.09, 1.06, 1.03, 1.00, 0.975, 0.95, 0.925, 0.90, 0.88, 0.86, 0.82, 0.79, 0.76, 0.74, 0.72, 0.70, 0.69,
    0.92, 1.99, 2.00, 1.80, 1.72, 1.99, 2.00, 1.98, 1.99, 2.00,
    1.36, 1.33, 1.30, 1.27, 1.24, 1.21, 1.18, 1.15, 1.12, 1.09, 1.06, 1.03, 1.00, 0.975, 0.95, 0.925, 0.90, 0.88, 0.86, 0.82, 0.79, 0.76, 0.74, 0.72, 0.70, 0.69,
    0.90, 1.99, 2.00, 1.98, 1.99, 2.00, 1.98, 1.99,
    1.28, 1.26, 1.24, 1.22, 1.20, 1.18, 1.16, 1.14, 1.12, 1.09, 1.06, 1.03, 1.00, 0.975, 0.95, 0.925, 0.90, 0.88, 0.86, 0.82, 0.79, 0.76, 0.74, 0.72, 0.70, 0.69,
    0.87, 1.99, 2.00, 1.98, 1.80, 1.72, 1.78, 1.99, 2.00, 1.98, 1.99,
    1.30, 1.28, 1.26, 1.24, 1.22, 1.20, 1.18, 1.15, 1.12, 1.09, 1.06, 1.03, 1.00, 0.975, 0.95, 0.925, 0.90, 0.88, 0.86, 0.82, 0.79, 0.76, 0.74, 0.72, 0.70,
    0.70, 0.69, 0.68, 0.68, 0.68, 0.69, 0.69, 0.70, 0.69, 0.68, 0.67, 0.66,
]

series_names = ["Cell 1", "Cell 2", "Cell 3", "Cell 4"]
series_colors = ["#4A7EBB", "#C8453F", "#9BBF55", "#7F62B0"]
x_ticks = [0, 100, 200, 300, 400, 500, 600, 700]
y_ticks = [0.0, 0.5, 1.0, 1.5, 2.0, 2.5]

series = [cell1, cell2, cell3, cell4]
for name, vals in zip(series_names, series):
    if len(vals) != len(hours):
        print("length mismatch:", name, len(vals), len(hours))

fig = go.Figure()
for name, vals, color in zip(series_names, series, series_colors):
    fig.add_trace(go.Scatter(
        x=hours, y=vals, name=name, mode="lines+markers",
        line=dict(color=color, width=3),
        marker=dict(color=color, size=10),
        cliponaxis=False,
    ))

GRID = "#D9D9D9"
TXT = "#595959"
FONT = "Lato"


def px_x(px):
    return (px - 167) / 801


def px_y(py):
    return (512 - py) / 425


fig.update_layout(
    width=992, height=614, autosize=False,
    margin=dict(l=167, r=24, t=87, b=102),
    paper_bgcolor="white", plot_bgcolor="white",
    font=dict(family=FONT, color=TXT),
    legend=dict(
        orientation="h", x=px_x(252), y=px_y(115), xanchor="left", yanchor="middle",
        entrywidth=136, entrywidthmode="pixels",
        font=dict(family=FONT, size=24, color=TXT),
        bgcolor="rgba(0,0,0,0)",
    ),
    xaxis=dict(
        range=[0, 700], tickvals=x_ticks, ticktext=[str(v) for v in x_ticks],
        showgrid=True, gridcolor=GRID, gridwidth=1, zeroline=False,
        showline=True, linecolor=GRID, linewidth=1, mirror=True,
        ticks="", ticklabelstandoff=14,
        tickfont=dict(family=FONT, size=24, color=TXT),
    ),
    yaxis=dict(
        range=[0, 2.5], tickvals=y_ticks, ticktext=[f"{v:.1f}" for v in y_ticks],
        showgrid=True, gridcolor=GRID, gridwidth=1, zeroline=False,
        showline=True, linecolor=GRID, linewidth=1, mirror=True,
        ticks="", ticklabelstandoff=22,
        tickfont=dict(family=FONT, size=24, color=TXT),
    ),
    annotations=[
        dict(text="<b>4-cell Stack</b>", x=px_x(206), y=px_y(21),
             xref="paper", yref="paper", showarrow=False, xanchor="center", yanchor="middle",
             font=dict(family=FONT, size=33, color="#FF0000")),
        dict(text="<b>Electrolyzer durability</b>", x=px_x(475), y=px_y(32),
             xref="paper", yref="paper", showarrow=False, xanchor="center", yanchor="middle",
             font=dict(family=FONT, size=25, color=TXT)),
        dict(text="<b>Time (hour)</b>", x=px_x(527), y=px_y(584),
             xref="paper", yref="paper", showarrow=False, xanchor="center", yanchor="middle",
             font=dict(family=FONT, size=26, color=TXT)),
        dict(text="<b>Voltage (V)</b>", x=px_x(42), y=px_y(300),
             xref="paper", yref="paper", showarrow=False, textangle=-90,
             xanchor="center", yanchor="middle",
             font=dict(family=FONT, size=22, color=TXT)),
        dict(text="<b>0</b>", x=px_x(8), y=px_y(568),
             xref="paper", yref="paper", showarrow=False, xanchor="right", yanchor="middle",
             font=dict(family=FONT, size=24, color="#404040")),
    ],
    shapes=[
        dict(type="line", xref="paper", yref="paper",
             x0=px_x(13), x1=px_x(13), y0=px_y(58), y1=px_y(620),
             line=dict(color="#C8C8C8", width=1.5)),
    ],
)

fig.write_html("out.html")
